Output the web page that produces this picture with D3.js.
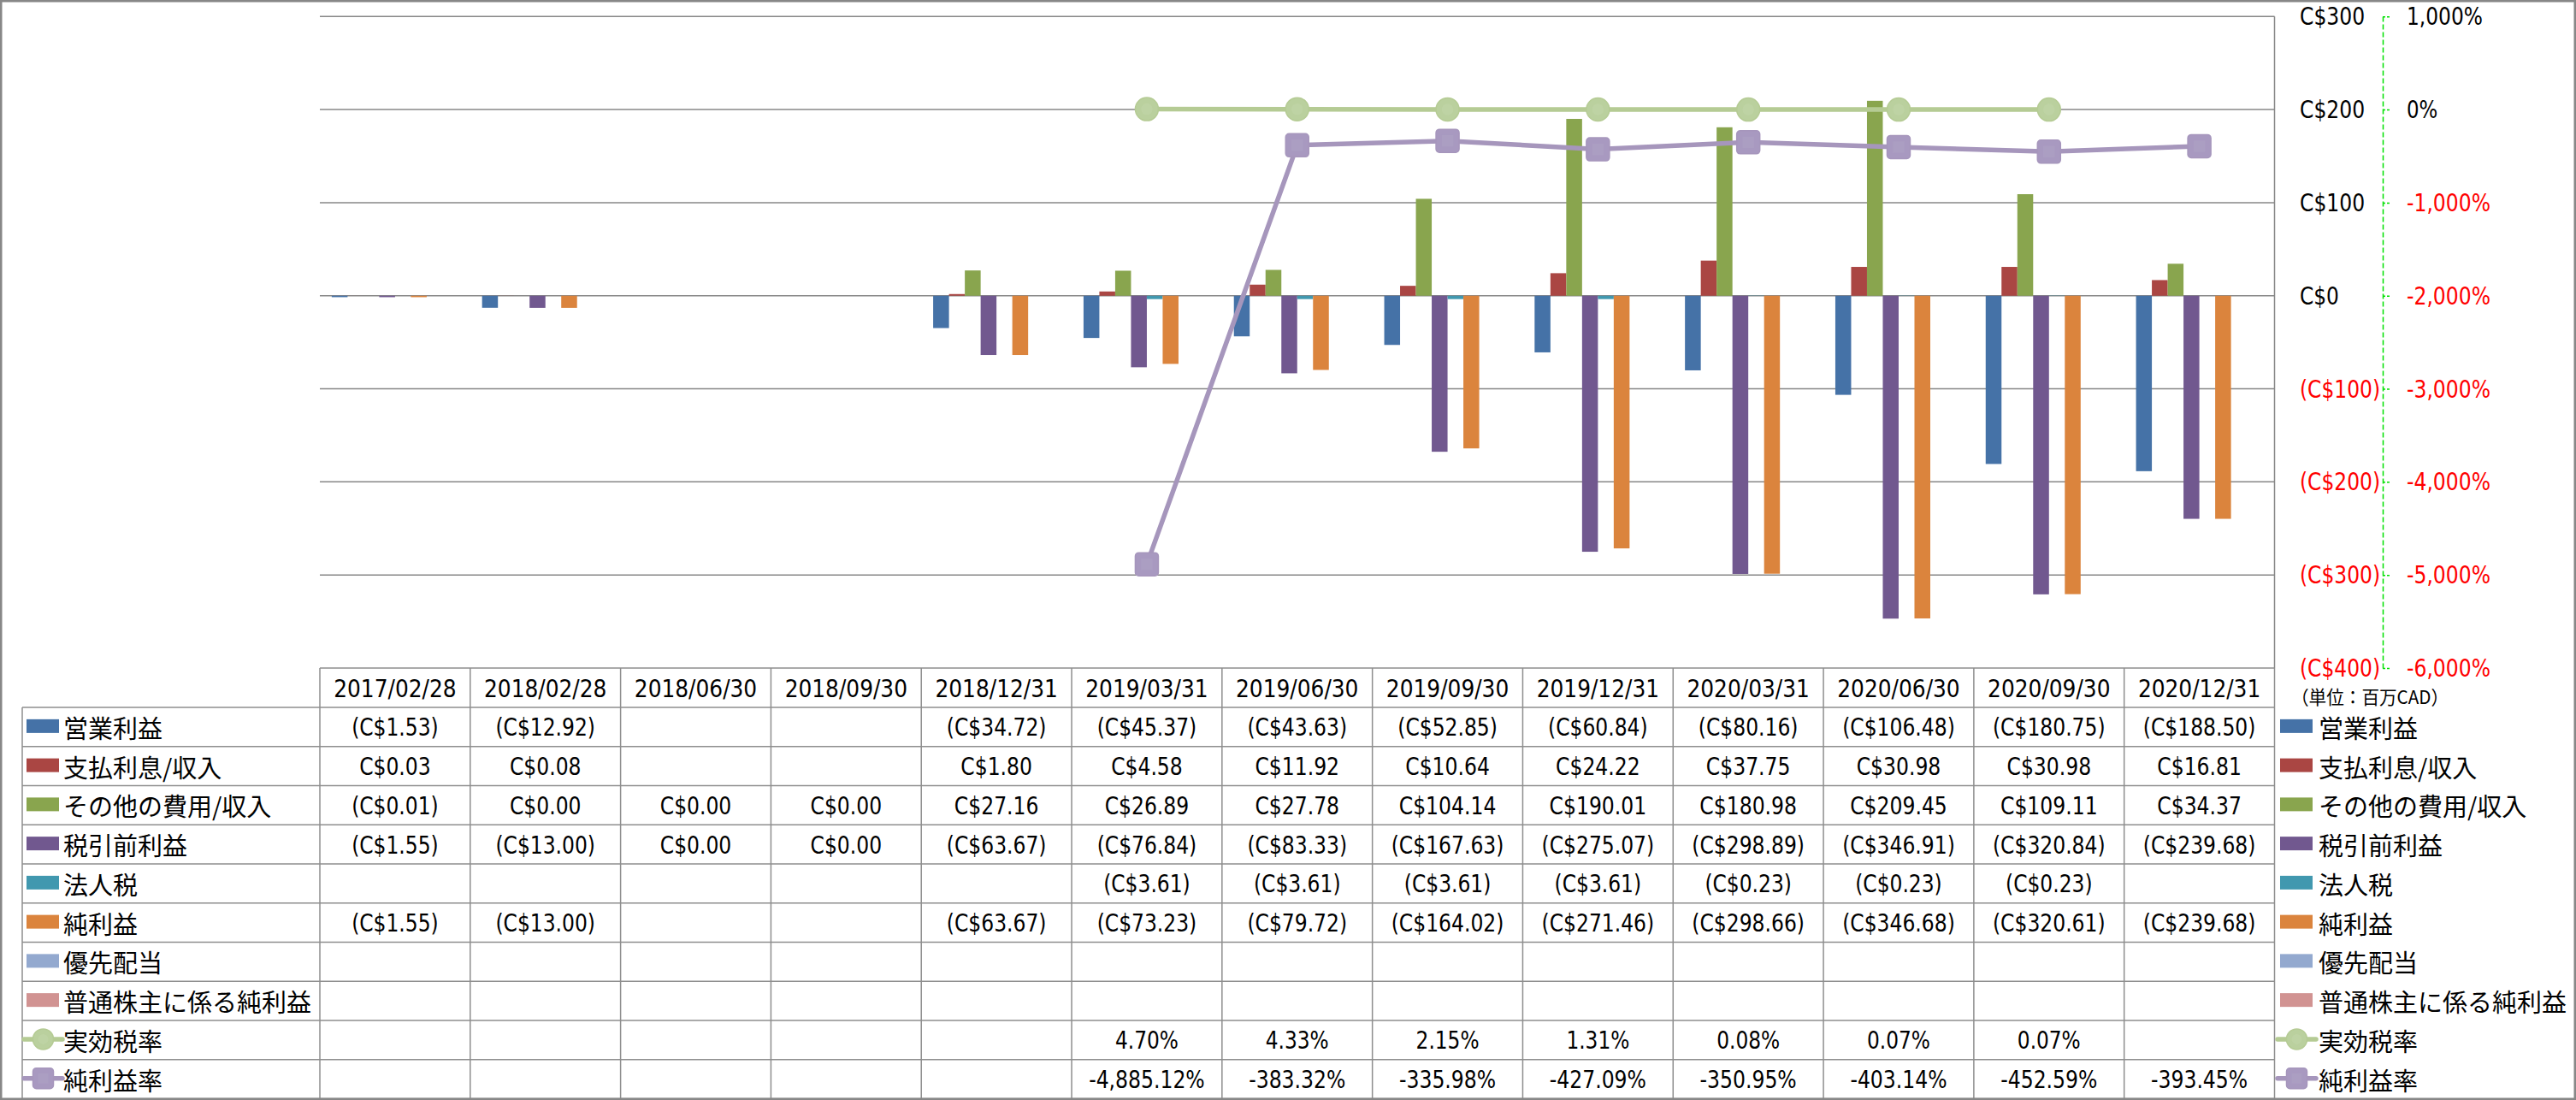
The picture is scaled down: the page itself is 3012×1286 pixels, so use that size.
<!DOCTYPE html>
<html><head><meta charset="utf-8">
<script src="https://cdn.jsdelivr.net/npm/d3@7"></script>
<style>html,body{margin:0;padding:0;background:#fff;} svg{display:block}</style>
</head><body><svg id="c" width="3012" height="1286"></svg>
<script>
// ---------------- DATA ----------------
const categories = ["2017/02/28","2018/02/28","2018/06/30","2018/09/30","2018/12/31","2019/03/31","2019/06/30","2019/09/30","2019/12/31","2020/03/31","2020/06/30","2020/09/30","2020/12/31"];
const operatingIncome   = [-1.53,-12.92,null,null,-34.72,-45.37,-43.63,-52.85,-60.84,-80.16,-106.48,-180.75,-188.50];
const interestExpense   = [0.03,0.08,null,null,1.80,4.58,11.92,10.64,24.22,37.75,30.98,30.98,16.81];
const otherExpense      = [-0.01,0.00,0.00,0.00,27.16,26.89,27.78,104.14,190.01,180.98,209.45,109.11,34.37];
const pretaxIncome      = [-1.55,-13.00,0.00,0.00,-63.67,-76.84,-83.33,-167.63,-275.07,-298.89,-346.91,-320.84,-239.68];
const incomeTax         = [null,null,null,null,null,-3.61,-3.61,-3.61,-3.61,-0.23,-0.23,-0.23,null];
const netIncome         = [-1.55,-13.00,null,null,-63.67,-73.23,-79.72,-164.02,-271.46,-298.66,-346.68,-320.61,-239.68];
const preferredDividend = [null,null,null,null,null,null,null,null,null,null,null,null,null];
const netIncomeCommon   = [null,null,null,null,null,null,null,null,null,null,null,null,null];
const effectiveTaxRate  = [null,null,null,null,null,4.70,4.33,2.15,1.31,0.08,0.07,0.07,null];
const netMargin         = [null,null,null,null,null,-4885.12,-383.32,-335.98,-427.09,-350.95,-403.14,-452.59,-393.45];
const leftTicks  = [300,200,100,0,-100,-200,-300,-400];
const rightTicks = [1000,0,-1000,-2000,-3000,-4000,-5000,-6000];
const unitLabel = "（単位：百万CAD）";

const barSeries = [
  {name:"営業利益", values:operatingIncome, color:"#4572A7"},
  {name:"支払利息/収入", values:interestExpense, color:"#AA4643"},
  {name:"その他の費用/収入", values:otherExpense, color:"#89A54E"},
  {name:"税引前利益", values:pretaxIncome, color:"#71588F"},
  {name:"法人税", values:incomeTax, color:"#4198AF"},
  {name:"純利益", values:netIncome, color:"#DB843D"},
  {name:"優先配当", values:preferredDividend, color:"#93A9CF"},
  {name:"普通株主に係る純利益", values:netIncomeCommon, color:"#D19392"}
];
const lineSeries = [
  {name:"実効税率", values:effectiveTaxRate, color:"#B5CB94", fill:"#BAD09E", shape:"circle"},
  {name:"純利益率", values:netMargin, color:"#A696BC", fill:"#A899C0", shape:"square"}
];

// ---------------- LAYOUT ----------------
const X0 = 374, X1 = 2659.5, YT = 19.3, YB = 781;
const ROW0 = 827, ROWH = 45.75, LEG_X = 26;
const svg = d3.select("#c");

function hasFont(f){
  const c=document.createElement("canvas").getContext("2d");
  c.font="100px monospace"; const a=c.measureText("2017/02/28 (C$)").width;
  c.font="100px '"+f+"', monospace"; const b=c.measureText("2017/02/28 (C$)").width;
  return Math.abs(a-b)>0.5;
}
const narrow = hasFont("Liberation Sans Narrow");
const NUMFONT = narrow ? "'Liberation Sans Narrow'" : "'DejaVu Sans Condensed','DejaVu Sans'";
const NUMSIZE = narrow ? 30 : 28;
const CJK = "'Noto Sans CJK JP','Noto Sans CJK SC',sans-serif";
const cw = {"(":0.303,")":0.303,"C":0.533,"$":0.507,".":0.252,",":0.25,"%":0.715,"-":0.306,"/":0.386};
function tLen(s){let w=0;for(const ch of s){w+= (ch>="0"&&ch<="9")?0.507:(cw[ch]||0.5);}return w*29.7;}
function numText(sel){ sel.attr("font-family",NUMFONT).attr("font-size",NUMSIZE)
  .each(function(){const s=this.textContent; if(s) d3.select(this).attr("textLength",tLen(s)).attr("lengthAdjust","spacingAndGlyphs");}); }

const f2 = d3.format(",.2f"), f0 = d3.format(",");
const fmtC = v => v==null ? "" : (v<0 ? "(C$"+f2(-v)+")" : "C$"+f2(v));
const fmtP = v => v==null ? "" : (v<0?"-":"")+f2(Math.abs(v))+"%";

// ---------------- SCALES ----------------
const x = d3.scaleBand().domain(categories).range([X0, X1]).paddingInner(0).paddingOuter(0);
const xs = d3.scaleBand().domain(barSeries.map(d=>d.name)).range([0, x.bandwidth()]).paddingInner(0).paddingOuter(0.75);
const y = d3.scaleLinear().domain([-400,300]).range([YB, YT]);
const y2 = d3.scaleLinear().domain([-6000,1000]).range([YB, YT]);

svg.append("g").selectAll("line").data(leftTicks.filter(t=>t>-400)).join("line")
  .attr("x1",X0).attr("x2",X1).attr("y1",d=>y(d)).attr("y2",d=>y(d))
  .attr("stroke","#878787").attr("stroke-width",1.5);
svg.append("line").attr("x1",X1).attr("x2",X1).attr("y1",YT).attr("y2",YB).attr("stroke","#878787").attr("stroke-width",1.5);

const gb = svg.append("g");
barSeries.forEach(s=>{
  gb.append("g").selectAll("rect").data(s.values.map((v,i)=>({v,c:categories[i]})).filter(d=>d.v!=null)).join("rect")
    .attr("x",d=>x(d.c)+xs(s.name)).attr("width",xs.bandwidth())
    .attr("y",d=>y(Math.max(0,d.v))).attr("height",d=>Math.abs(y(d.v)-y(0)))
    .attr("fill",s.color);
});

const gl = svg.append("g");
function marker(g, shape, cx, cy, size, s){
  if(shape==="circle"){
    g.append("circle").attr("cx",cx).attr("cy",cy).attr("r",size/2).attr("fill",s.fill).attr("stroke",s.color).attr("stroke-width",1.5);
    g.append("circle").attr("cx",cx).attr("cy",cy).attr("r",size/4).attr("fill","#C0D4A6").attr("opacity",0.7);
  } else {
    g.append("rect").attr("x",cx-size/2).attr("y",cy-size/2).attr("width",size).attr("height",size).attr("rx",4)
      .attr("fill",s.fill).attr("stroke",s.color).attr("stroke-width",1.5);
    g.append("rect").attr("x",cx-size/4).attr("y",cy-size/4).attr("width",size/2).attr("height",size/2)
      .attr("fill","#AC9FC3").attr("opacity",0.7);
  }
}
lineSeries.forEach(s=>{
  const pts = s.values.map((v,i)=>({v,c:categories[i]})).filter(d=>d.v!=null);
  const line = d3.line().x(d=>x(d.c)+x.bandwidth()/2).y(d=>y2(d.v));
  gl.append("path").attr("d",line(pts)).attr("fill","none").attr("stroke",s.color).attr("stroke-width",5.5).attr("stroke-linejoin","round");
  pts.forEach(d=>marker(gl, s.shape, x(d.c)+x.bandwidth()/2, y2(d.v), 27, s));
});

const axL = svg.append("g").attr("transform","translate(2689,0)")
  .call(d3.axisRight(y).tickValues(leftTicks).tickSize(0).tickPadding(0)
    .tickFormat(v=> v<0 ? "(C$"+f0(-v)+")" : "C$"+f0(v)));
axL.select(".domain").remove();
axL.selectAll("text").attr("dy",null).attr("dominant-baseline","central")
  .attr("fill",d=>d<0?"#FF0000":"#000");
numText(axL.selectAll("text"));

const axR = svg.append("g").attr("transform","translate(2786,0)")
  .call(d3.axisRight(y2).tickValues(rightTicks).tickSize(9).tickSizeOuter(0).tickPadding(19)
    .tickFormat(v=>(v<0?"-":"")+f0(Math.abs(v))+"%"));
axR.select(".domain").attr("stroke","#00E000").attr("stroke-width",1.5).attr("stroke-dasharray","6,3");
axR.selectAll(".tick line").attr("stroke","#00E000").attr("stroke-width",1.5).attr("stroke-dasharray","3,2");
axR.selectAll("text").attr("dy",null).attr("dominant-baseline","central")
  .attr("fill",d=>d<0?"#FF0000":"#000");
numText(axR.selectAll("text"));

svg.append("text").attr("x",2679).attr("y",813).attr("dominant-baseline","central")
  .attr("font-family",CJK).attr("font-size",22).attr("fill","#000")
  .attr("textLength",184).attr("lengthAdjust","spacingAndGlyphs").text(unitLabel);

// ---------------- DATA TABLE ----------------
const gt = svg.append("g");
const tableBottom = ROW0 + ROWH*10;
const gridC = "#8E8E8E";
gt.append("line").attr("x1",X0).attr("x2",X1).attr("y1",YB).attr("y2",YB).attr("stroke",gridC).attr("stroke-width",1.5);
gt.selectAll("line.r").data(d3.range(11)).join("line").attr("class","r")
  .attr("x1",LEG_X).attr("x2",X1).attr("y1",i=>ROW0+i*ROWH).attr("y2",i=>ROW0+i*ROWH)
  .attr("stroke",gridC).attr("stroke-width",1.5);
gt.selectAll("line.c").data(d3.range(14)).join("line").attr("class","c")
  .attr("x1",i=>X0+i*x.step()).attr("x2",i=>X0+i*x.step()).attr("y1",YB).attr("y2",tableBottom)
  .attr("stroke",gridC).attr("stroke-width",1.5);
gt.append("line").attr("x1",LEG_X).attr("x2",LEG_X).attr("y1",ROW0).attr("y2",tableBottom).attr("stroke",gridC).attr("stroke-width",1.5);

const hd = gt.append("g").selectAll("text").data(categories).join("text")
  .attr("x",d=>x(d)+x.bandwidth()/2).attr("y",(YB+ROW0)/2+1).attr("text-anchor","middle")
  .attr("dominant-baseline","central").attr("fill","#000").text(d=>d);
numText(hd);

const rows = [
  ...barSeries.map(s=>({s, kind:"bar", fmt:fmtC})),
  ...lineSeries.map(s=>({s, kind:"line", fmt:fmtP}))
];
rows.forEach((r,ri)=>{
  const cy = ROW0 + ri*ROWH + ROWH/2;
  const t = gt.append("g").selectAll("text").data(r.s.values.map((v,i)=>({v,c:categories[i]}))).join("text")
    .attr("x",d=>x(d.c)+x.bandwidth()/2).attr("y",cy+1).attr("text-anchor","middle")
    .attr("dominant-baseline","central").attr("fill","#000").text(d=>r.fmt(d.v));
  numText(t);
  [[LEG_X+5, 74],[2666, 2711]].forEach(([sx,tx])=>{
    if(r.kind==="bar"){
      gt.append("rect").attr("x",sx).attr("y",cy-9).attr("width",38).attr("height",16).attr("fill",r.s.color);
    } else {
      gt.append("line").attr("x1",sx-3).attr("x2",sx+42).attr("y1",cy-1).attr("y2",cy-1)
        .attr("stroke",r.s.color).attr("stroke-width",5.5).attr("stroke-linecap","round");
      marker(gt, r.s.shape, sx+19.5, cy-1, 24, r.s);
    }
    gt.append("text").attr("x",tx).attr("y",cy).attr("dominant-baseline","central")
      .attr("font-family",CJK).attr("font-size",29).attr("fill","#000").text(r.s.name);
  });
});

svg.append("rect").attr("x",1.25).attr("y",1.25).attr("width",3009.5).attr("height",1283.5)
  .attr("fill","none").attr("stroke","#878787").attr("stroke-width",2.5);
</script>
</body></html>
